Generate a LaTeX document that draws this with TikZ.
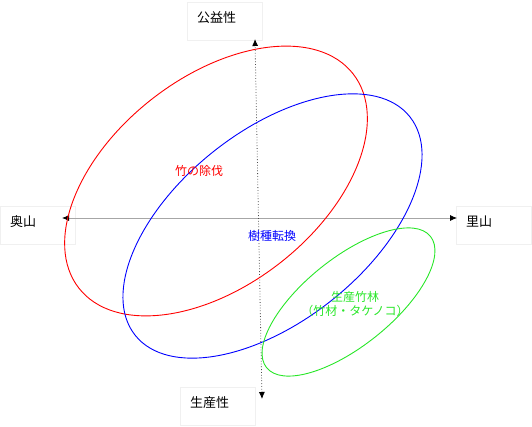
\documentclass[tikz,border=0pt]{standalone}
\usepackage{fontspec}
\setmainfont{Noto Sans CJK JP}
\usetikzlibrary{arrows.meta}
\definecolor{vert}{RGB}{40,230,40}
\definecolor{bordure}{RGB}{240,240,240}
\begin{document}
\begin{tikzpicture}[x=1pt,y=-1pt]
	% Styles
	\tikzstyle{fleche}=[<->,>={Latex[length=7pt,width=6pt,color=black]}]
	\tikzstyle{axeh}=[fleche,gray!70,line width=0.8pt]
	\tikzstyle{axev}=[fleche,black!70,dotted,line width=0.8pt]
	\tikzstyle{boite}=[draw=bordure,anchor=north west,align=left,text width=55pt,inner xsep=10pt,inner ysep=4pt,text height=16pt,text depth=14pt,font=\fontsize{13}{15}\selectfont]
	\tikzstyle{zone}=[line width=0.9pt]
	\tikzstyle{commentaire}=[font=\fontsize{12}{14}\selectfont,align=center]
	% Cadre
	\useasboundingbox (0,0) rectangle (532,427);
	% Boites
	\node[boite] (public) at (187,2) {公益性};
	\node[boite] (okuyama) at (0,206) {奥山};
	\node[boite] (satoyama) at (456,206) {里山};
	\node[boite] (production) at (180,387) {生産性};
	% Extremites des axes
	\coordinate (gauche) at (62,218);
	\coordinate (droite) at (457,218);
	\coordinate (haut) at (255,39);
	\coordinate (bas) at (262,399);
	% Axes
	\draw[axeh] (gauche) -- (droite);
	\draw[axev] (bas) -- (haut);
	% Zones
	\draw[zone,red,rotate around={38:(216,181)}] (216,181) ellipse [x radius=174, y radius=104];
	\draw[zone,blue,rotate around={38.5:(272.5,226)}] (272.5,226) ellipse [x radius=175.5, y radius=95];
	\draw[zone,vert,rotate around={38.7:(348.5,302)}] (348.5,302) ellipse [x radius=105, y radius=44];
	% Textes
	\node[commentaire,text=red] (bambou) at (199,171) {竹の除伐};
	\node[commentaire,text=blue] (conversion) at (272,236) {樹種転換};
	\node[commentaire,text=vert] (foret) at (355,304) {生産竹林\\（竹材・タケノコ）};
\end{tikzpicture}
\end{document}
